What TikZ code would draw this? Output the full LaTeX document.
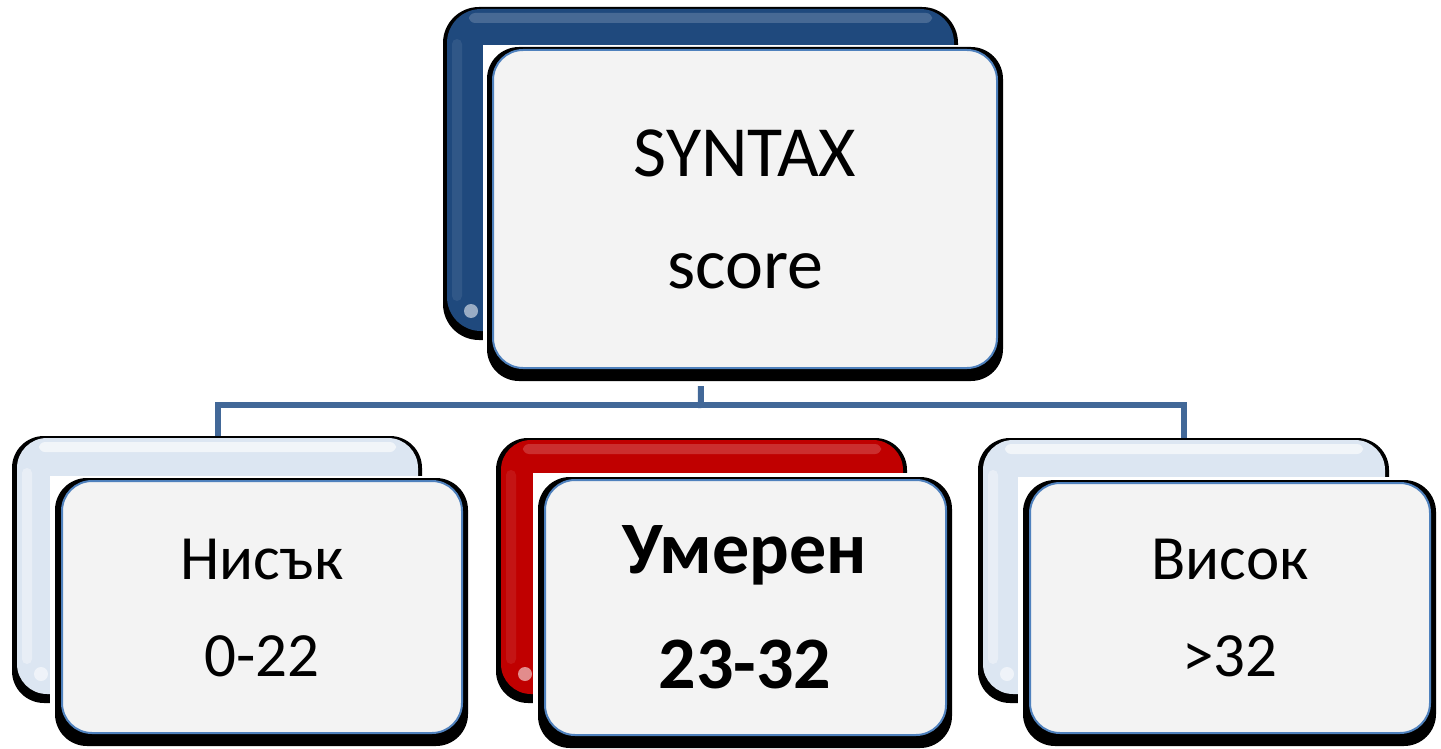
\documentclass[tikz,border=0pt]{standalone}
\usepackage{fontspec}
\setmainfont{Carlito}
\usetikzlibrary{fit}
\pgfdeclarelayer{pagebg}
\pgfdeclarelayer{background}
\pgfsetlayers{pagebg,background,main}
\definecolor{darkblue}{RGB}{31,73,125}
\definecolor{cardred}{RGB}{192,0,0}
\definecolor{paleblue}{RGB}{220,230,242}
\definecolor{cardface}{RGB}{243,243,243}
\definecolor{cardedge}{RGB}{79,129,189}
\definecolor{conncol}{RGB}{66,104,152}
\tikzset{
  backcard/.style={rounded corners=34pt, inner sep=0pt, outer sep=0pt},
  frontcard/.style={rounded corners=30pt, fill=cardface, draw=cardedge, line width=2pt, inner sep=0pt, outer sep=0pt},
  shadowfill/.style={fill=black},
  whitemask/.style={fill=white},
  gloss/.style={fill=white, opacity=0.18, rounded corners=6pt},
  sidegloss/.style={fill=white, opacity=0.08, rounded corners=5pt},
  spot/.style={fill=white, opacity=0.55},
  conn/.style={draw=conncol, line width=6pt},
  toptext/.style={font=\fontsize{72}{80}\selectfont, anchor=base, inner sep=0pt},
  lowtext/.style={font=\fontsize{63}{70}\selectfont, anchor=base, inner sep=0pt},
  boldtext/.style={font=\fontsize{74}{80}\selectfont\bfseries, anchor=base, inner sep=0pt},
}
\begin{document}
\begin{tikzpicture}[x=1pt,y=-1pt]
\useasboundingbox (0,0) rectangle (1441,749);
\begin{pgfonlayer}{pagebg}
\fill[white] (0,0) rectangle (1441,749);
\end{pgfonlayer}

% ---------- top group ----------
\coordinate (tbA) at (447,9); \coordinate (tbB) at (954,331);
\fill[shadowfill, rounded corners=36pt] ([shift={(-4,-2)}]tbA) rectangle ([shift={(4,9)}]tbB);
\node[backcard, fill=darkblue, fit=(tbA)(tbB)] (topback) {};
\fill[gloss] ([shift={(22,4)}]topback.north west) rectangle ([shift={(-22,14)}]topback.north east);
\fill[sidegloss] ([shift={(5,30)}]topback.north west) rectangle ([shift={(15,-30)}]topback.south west);
\fill[spot] ([shift={(24,-20)}]topback.south west) circle [radius=7pt];
\coordinate (tfA) at (493,50); \coordinate (tfB) at (997,368);
\fill[whitemask] ([shift={(-10,-5)}]tfA) rectangle ([shift={(8,18)}]tfB);
\fill[shadowfill, rounded corners=32pt] ([shift={(-6,-3)}]tfA) rectangle ([shift={(6,13)}]tfB);
\node[frontcard, fit=(tfA)(tfB)] (top) {};
\node[toptext] (t1) at (745,177) {SYNTAX};
\node[toptext] (t2) at (745,288) {score};

% ---------- left group ----------
\coordinate (lbA) at (17,438); \coordinate (lbB) at (418,694);
\fill[shadowfill, rounded corners=32pt] ([shift={(-5,-2)}]lbA) rectangle ([shift={(4,9)}]lbB);
\node[backcard, rounded corners=30pt, fill=paleblue, fit=(lbA)(lbB)] (lback) {};
\fill[gloss, opacity=0.6] ([shift={(22,4)}]lback.north west) rectangle ([shift={(-22,14)}]lback.north east);
\fill[sidegloss, opacity=0.35] ([shift={(5,30)}]lback.north west) rectangle ([shift={(15,-30)}]lback.south west);
\fill[spot] ([shift={(24,-20)}]lback.south west) circle [radius=7pt];
\coordinate (lfA) at (62,481); \coordinate (lfB) at (462,733);
\fill[whitemask] ([shift={(-12,-5)}]lfA) rectangle ([shift={(10,20)}]lfB);
\fill[shadowfill, rounded corners=32pt] ([shift={(-7,-3)}]lfA) rectangle ([shift={(6,13)}]lfB);
\node[frontcard, fit=(lfA)(lfB)] (low) {};
\node[lowtext] (t3) at (262,579) {Нисък};
\node[lowtext] (t4) at (262,676) {0-22};

% ---------- middle group ----------
\coordinate (mbA) at (501,440); \coordinate (mbB) at (903,694);
\fill[shadowfill, rounded corners=32pt] ([shift={(-5,-2)}]mbA) rectangle ([shift={(4,9)}]mbB);
\node[backcard, rounded corners=30pt, fill=cardred, fit=(mbA)(mbB)] (mback) {};
\fill[gloss] ([shift={(22,4)}]mback.north west) rectangle ([shift={(-22,14)}]mback.north east);
\fill[sidegloss] ([shift={(5,30)}]mback.north west) rectangle ([shift={(15,-30)}]mback.south west);
\fill[spot] ([shift={(24,-20)}]mback.south west) circle [radius=7pt];
\coordinate (mfA) at (545,480); \coordinate (mfB) at (946,735);
\fill[whitemask] ([shift={(-12,-7)}]mfA) rectangle ([shift={(10,20)}]mfB);
\fill[shadowfill, rounded corners=32pt] ([shift={(-7,-3)}]mfA) rectangle ([shift={(6,13)}]mfB);
\node[frontcard, fit=(mfA)(mfB)] (mid) {};
\node[boldtext] (t5) at (745,573) {Умерен};
\node[boldtext] (t6) at (745,688) {23-32};

% ---------- right group ----------
\coordinate (rbA) at (983,440); \coordinate (rbB) at (1385,694);
\fill[shadowfill, rounded corners=32pt] ([shift={(-5,-2)}]rbA) rectangle ([shift={(4,9)}]rbB);
\node[backcard, rounded corners=30pt, fill=paleblue, fit=(rbA)(rbB)] (rback) {};
\fill[gloss, opacity=0.6] ([shift={(22,4)}]rback.north west) rectangle ([shift={(-22,14)}]rback.north east);
\fill[sidegloss, opacity=0.35] ([shift={(5,30)}]rback.north west) rectangle ([shift={(15,-30)}]rback.south west);
\fill[spot] ([shift={(24,-20)}]rback.south west) circle [radius=7pt];
\coordinate (rfA) at (1030,483); \coordinate (rfB) at (1430,733);
\fill[whitemask] ([shift={(-12,-6)}]rfA) rectangle ([shift={(10,20)}]rfB);
\fill[shadowfill, rounded corners=32pt] ([shift={(-7,-3)}]rfA) rectangle ([shift={(6,13)}]rfB);
\node[frontcard, fit=(rfA)(rfB)] (high) {};
\node[lowtext] (t7) at (1230,579) {Висок};
\node[lowtext] (t8) at (1230,676) {>32};

% ---------- connectors ----------
\coordinate (bar) at (701,405);
\begin{pgfonlayer}{background}
\draw[conn] (topback.south) -- ([yshift=-3pt]bar);
\draw[conn] (lback.north) |- (bar) -| (rback.north);
\end{pgfonlayer}
\end{tikzpicture}
\end{document}
